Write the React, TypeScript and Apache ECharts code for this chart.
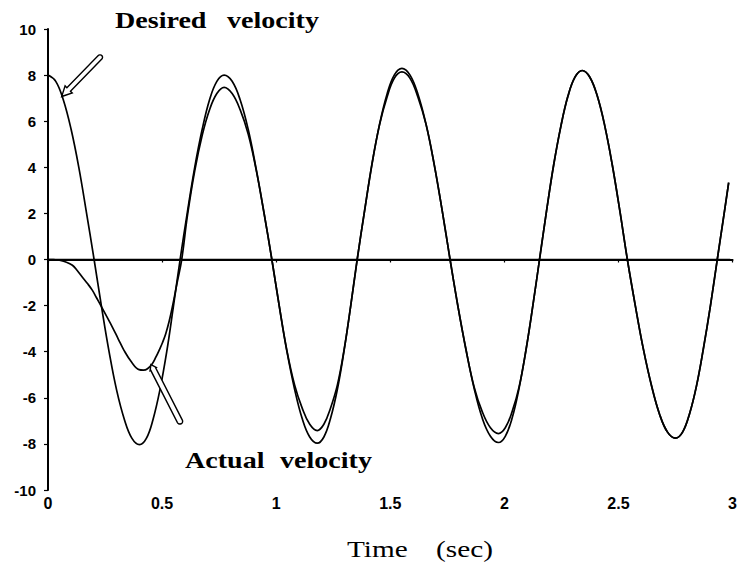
import React, { useEffect, useRef } from "react";
import * as echarts from "echarts";

// Desired velocity (time in s, velocity)
const desiredT = [
  0, 0.034, 0.067, 0.101, 0.135, 0.168, 0.202,
  0.235, 0.268, 0.301, 0.335, 0.368, 0.401,
  0.431, 0.46, 0.49, 0.52, 0.549, 0.579,
  0.611, 0.643, 0.676, 0.708, 0.74, 0.772,
  0.807, 0.842, 0.877, 0.911, 0.946, 0.981,
  1.014, 1.047, 1.081, 1.114, 1.147, 1.18,
  1.209, 1.238, 1.268, 1.297, 1.326, 1.355,
  1.388, 1.42, 1.453, 1.486, 1.518, 1.551,
  1.586, 1.621, 1.657, 1.692, 1.727, 1.762,
  1.797, 1.833, 1.868, 1.903, 1.939, 1.974,
  2.004, 2.034, 2.064, 2.094, 2.124, 2.154,
  2.185, 2.216, 2.248, 2.279, 2.31, 2.341,
  2.374, 2.407, 2.44, 2.473, 2.506, 2.539,
  2.574, 2.609, 2.645, 2.68, 2.715, 2.75,
  2.781, 2.811, 2.842, 2.872, 2.903, 2.933,
  2.958, 2.983,
];
const desiredV = [
  8.0, 7.73, 6.93, 5.66, 4.0, 2.07, 0,
  -2.08, -4.02, -5.68, -6.95, -7.76, -8.03,
  -7.76, -6.95, -5.68, -4.02, -2.08, 0,
  2.07, 4.0, 5.66, 6.93, 7.73, 8.0,
  7.73, 6.93, 5.66, 4.0, 2.07, 0,
  -2.06, -3.99, -5.64, -6.9, -7.7, -7.97,
  -7.7, -6.9, -5.64, -3.99, -2.06, 0,
  2.15, 4.15, 5.86, 7.18, 8.01, 8.29,
  8.01, 7.18, 5.86, 4.15, 2.15, 0,
  -2.06, -3.97, -5.61, -6.88, -7.67, -7.94,
  -7.67, -6.88, -5.61, -3.97, -2.06, 0,
  2.12, 4.1, 5.8, 7.1, 7.92, 8.2,
  7.92, 7.1, 5.8, 4.1, 2.12, 0,
  -2.01, -3.88, -5.48, -6.71, -7.49, -7.75,
  -7.49, -6.71, -5.48, -3.88, -2.01, 0,
  1.65, 3.33,
];

// Actual velocity
const actualT = [
  0, 0.024, 0.048, 0.075, 0.107, 0.128, 0.15, 0.172, 0.194, 0.212, 0.231, 0.256,
  0.282, 0.308, 0.333, 0.366, 0.399, 0.418, 0.436, 0.457, 0.472, 0.487, 0.502,
  0.516, 0.531, 0.545, 0.566, 0.586,
  0.611, 0.643, 0.676, 0.708, 0.74, 0.772,
  0.807, 0.842, 0.877, 0.911, 0.946, 0.981,
  1.014, 1.047, 1.081, 1.114, 1.147, 1.18,
  1.209, 1.238, 1.268, 1.297, 1.326, 1.355,
  1.388, 1.42, 1.453, 1.486, 1.518, 1.551,
  1.586, 1.621, 1.657, 1.692, 1.727, 1.762,
  1.797, 1.833, 1.868, 1.903, 1.939, 1.974,
  2.004, 2.034, 2.064, 2.094, 2.124, 2.154,
  2.185, 2.216, 2.248, 2.279, 2.31, 2.341,
  2.374, 2.407, 2.44, 2.473, 2.506, 2.539,
  2.574, 2.609, 2.645, 2.68, 2.715, 2.75,
  2.781, 2.811, 2.842, 2.872, 2.903, 2.933,
  2.958, 2.983,
];
const actualV = [
  0, 0, -0.03, -0.1, -0.25, -0.48, -0.76, -1.03, -1.33, -1.65, -1.99, -2.45,
  -2.93, -3.45, -3.94, -4.45, -4.78, -4.8, -4.74, -4.52, -4.25, -3.94, -3.6,
  -3.22, -2.68, -2.06, -1.0, 0,
  1.9, 3.85, 5.4, 6.5, 7.2, 7.47,
  7.2, 6.5, 5.45, 3.95, 2.05, 0,
  -2.05, -3.95, -5.45, -6.45, -7.15, -7.42,
  -7.15, -6.45, -5.45, -3.95, -2.05, 0,
  2.15, 4.15, 5.85, 7.05, 7.87, 8.14,
  7.87, 7.05, 5.85, 4.15, 2.15, 0,
  -2.06, -3.97, -5.55, -6.6, -7.3, -7.55,
  -7.3, -6.6, -5.55, -3.97, -2.06, 0,
  2.12, 4.1, 5.8, 7.1, 7.92, 8.2,
  7.92, 7.1, 5.8, 4.1, 2.12, 0,
  -2.01, -3.88, -5.48, -6.71, -7.49, -7.75,
  -7.49, -6.71, -5.48, -3.88, -2.01, 0,
  1.65, 3.33,
];

// Horizontal zero reference line
const zeroT = [0, 2.99];
const zeroV = [0, 0];

// Axis ranges / ticks
const xMin = 0;
const xMax = 3;
const xStep = 0.5;
const yMin = -10;
const yMax = 10;
const yStep = 2;

// Annotation arrows (data coordinates: tip, tail)
const desiredArrow = { tip: [0.06, 7.07], tail: [0.228, 8.77] };
const actualArrow = { tip: [0.451, -4.56], tail: [0.578, -7.02] };

function arrowPoly(tip: number[], tail: number[], shaftW: number, headW: number, headL: number) {
  const dx = tip[0] - tail[0];
  const dy = tip[1] - tail[1];
  const len = Math.hypot(dx, dy);
  const ux = dx / len;
  const uy = dy / len;
  const nx = -uy;
  const ny = ux;
  const bx = tip[0] - ux * headL;
  const by = tip[1] - uy * headL;
  const hs = shaftW / 2;
  const hh = headW / 2;
  const pts: number[][] = [];
  for (let i = 0; i <= 10; i++) {
    const th = (Math.PI * i) / 10;
    const c = Math.cos(th);
    const s = Math.sin(th);
    pts.push([tail[0] + nx * hs * c - ux * hs * s, tail[1] + ny * hs * c - uy * hs * s]);
  }
  pts.push([bx - nx * hs, by - ny * hs]);
  pts.push([bx - nx * hh, by - ny * hh]);
  pts.push([tip[0], tip[1]]);
  pts.push([bx + nx * hh, by + ny * hh]);
  pts.push([bx + nx * hs, by + ny * hs]);
  return pts;
}

export default function App() {
  const ref = useRef<HTMLDivElement>(null);

  useEffect(() => {
    if (!ref.current) return;
    const chart = echarts.init(ref.current, undefined, { renderer: "svg" });
    const lineStyle = { color: "#000", width: 1.7 };
    const option: any = {
      animation: false,
      backgroundColor: "#fff",
      grid: { left: 48, right: 7, top: 29, bottom: 87, containLabel: false },
      xAxis: {
        type: "value",
        min: xMin,
        max: xMax,
        interval: xStep,
        axisLine: { show: true, lineStyle: { color: "#000", width: 2 } },
        axisTick: { show: true, length: 3, inside: false, lineStyle: { color: "#000", width: 1.2 } },
        axisLabel: {
          color: "#000",
          fontFamily: "Liberation Sans",
          fontWeight: "bold",
          fontSize: 16,
          margin: 5,
        },
        splitLine: { show: false },
      },
      yAxis: {
        type: "value",
        min: yMin,
        max: yMax,
        interval: yStep,
        axisLine: { show: true, lineStyle: { color: "#000", width: 2 } },
        axisTick: { show: true, length: 4, lineStyle: { color: "#000", width: 1.2 } },
        axisLabel: {
          color: "#000",
          fontFamily: "Liberation Sans",
          fontWeight: "bold",
          fontSize: 15,
          margin: 12,
        },
        splitLine: { show: false },
      },
      series: [
        {
          name: "Desired velocity",
          type: "line",
          data: desiredT.map((t, i) => [t, desiredV[i]]),
          smooth: 0.4,
          showSymbol: false,
          lineStyle,
          z: 3,
        },
        {
          name: "Actual velocity",
          type: "line",
          data: actualT.map((t, i) => [t, actualV[i]]),
          smooth: 0.4,
          showSymbol: false,
          lineStyle,
          z: 3,
        },
        {
          name: "zero",
          type: "line",
          data: zeroT.map((t, i) => [t, zeroV[i]]),
          showSymbol: false,
          lineStyle: { color: "#000", width: 1.7 },
          z: 2,
        },
      ],
    };
    chart.setOption(option);

    const toPx = (p: number[]) => chart.convertToPixel({ gridIndex: 0 }, p) as number[];
    const dTip = toPx(desiredArrow.tip);
    const dTail = toPx(desiredArrow.tail);
    const aTip = toPx(actualArrow.tip);
    const aTail = toPx(actualArrow.tail);

    const serif = "'Liberation Serif', 'Times New Roman', serif";
    const boldText = (txt: string, x: number, y: number) => ({
      type: "text",
      x,
      y,
      scaleX: 1.17,
      z: 10,
      style: {
        text: txt,
        fill: "#000",
        font: `bold 24px ${serif}`,
        align: "left",
        verticalAlign: "middle",
      },
    });
    const plainText = (txt: string, x: number, y: number) => ({
      type: "text",
      x,
      y,
      scaleX: 1.22,
      z: 10,
      style: {
        text: txt,
        fill: "#000",
        font: `24px ${serif}`,
        align: "left",
        verticalAlign: "middle",
      },
    });

    chart.setOption({
      graphic: [
        {
          type: "polygon",
          z: 9,
          shape: { points: arrowPoly(dTip, dTail, 5, 10, 10) },
          style: { fill: "#fff", stroke: "#000", lineWidth: 1.4 },
        },
        {
          type: "polygon",
          z: 9,
          shape: { points: arrowPoly(aTip, aTail, 5.5, 7, 5) },
          style: { fill: "#fff", stroke: "#000", lineWidth: 1.4 },
        },
        boldText("Desired", 115, 20),
        boldText("velocity", 227, 20),
        boldText("Actual", 185, 460),
        boldText("velocity", 280, 460),
        plainText("Time", 347, 549),
        plainText("(sec)", 436, 549),
      ],
    });

    return () => chart.dispose();
  }, []);

  return (
    <div
      ref={ref}
      style={{ position: "fixed", left: 0, top: 0, width: 740, height: 577 }}
    />
  );
}
